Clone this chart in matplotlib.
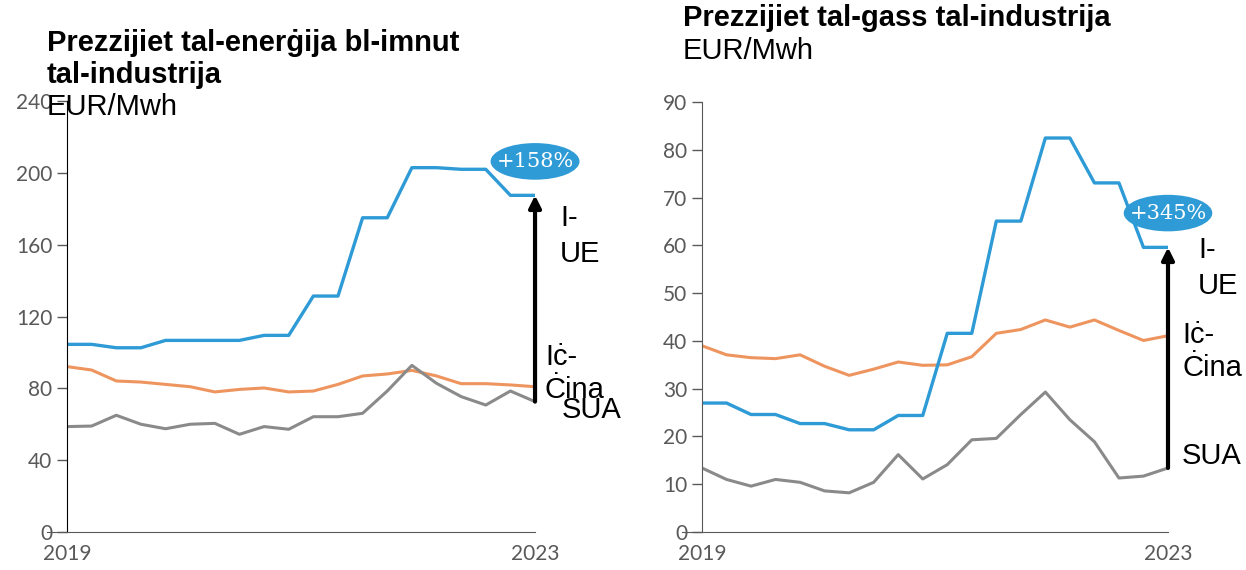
import numpy as np
import matplotlib
matplotlib.use('Agg')
import matplotlib.pyplot as plt
from matplotlib.patches import Ellipse

# Dữ liệu: giá điện (trái) và giá gas (phải), EUR/Mwh
periods = list(range(20))
x_labels = ['2019', '2023']

elec_eu = [104.5, 104.5, 102.6, 102.6, 106.7, 106.7, 106.7, 106.7, 109.5, 109.5,
           131.4, 131.4, 175, 175, 202.9, 202.9, 202, 202, 187.5, 187.5]
elec_cn = [92.1, 90.2, 84.1, 83.5, 82.2, 80.9, 78, 79.4, 80.2, 78,
           78.5, 82.2, 86.9, 88, 90, 86.9, 82.6, 82.6, 81.9, 80.9]
elec_us = [58.7, 59, 65, 60, 57.5, 60, 60.5, 54.4, 58.7, 57.2,
           64.2, 64.2, 66.1, 78.5, 92.8, 82.8, 75.4, 70.7, 78.5, 72.6]

gas_eu = [27, 27, 24.6, 24.6, 22.7, 22.7, 21.4, 21.4, 24.4, 24.4,
          41.6, 41.6, 65.1, 65.1, 82.5, 82.5, 73.1, 73.1, 59.6, 59.6]
gas_cn = [39, 37.1, 36.5, 36.3, 37.1, 34.7, 32.8, 34.1, 35.6, 34.9,
          35, 36.7, 41.6, 42.4, 44.4, 42.9, 44.4, 42.2, 40.1, 41.1]
gas_us = [13.4, 11, 9.6, 11, 10.4, 8.6, 8.2, 10.4, 16.2, 11.1,
          14.1, 19.3, 19.6, 24.6, 29.3, 23.5, 18.9, 11.3, 11.7, 13.4]

blue = '#2E9BD6'
orange = '#EE955F'
gray = '#8A8A8A'
tick_gray = '#595959'

fig = plt.figure(figsize=(12.46, 5.70), dpi=100)
ax1 = fig.add_axes([0.0538, 0.0667, 0.3756, 0.756])
ax2 = fig.add_axes([0.5634, 0.0667, 0.374, 0.754])


def draw_panel(ax, eu, cn, us, ymax, step, badge, badge_xy, spine_col):
    ax.plot(periods, cn, color=orange, lw=2.2)
    ax.plot(periods, us, color=gray, lw=2.2)
    ax.plot(periods, eu, color=blue, lw=2.4)
    ax.set_xlim(0, 19)
    ax.set_ylim(0, ymax)
    ax.set_yticks(np.arange(0, ymax + 1, step))
    ax.set_xticks([0, 19])
    ax.set_xticklabels(x_labels)
    ax.tick_params(axis='y', colors=tick_gray, labelsize=15, length=7, width=1)
    ax.tick_params(axis='x', colors=tick_gray, labelsize=15, length=0, pad=9)
    for lab in ax.get_xticklabels() + ax.get_yticklabels():
        lab.set_fontfamily('Lato')
    ax.spines['top'].set_visible(False)
    ax.spines['right'].set_visible(False)
    ax.spines['left'].set_color(spine_col)
    ax.spines['bottom'].set_color(tick_gray)
    ax.spines['bottom'].set_bounds(-0.8, 19)
    # mũi tên từ SUA lên UE
    ax.annotate('', xy=(19, eu[-1]), xytext=(19, us[-1]),
                arrowprops=dict(arrowstyle='-|>', color='black', lw=3,
                                mutation_scale=18, shrinkA=0, shrinkB=0),
                annotation_clip=False)
    e = Ellipse(badge_xy, 0.19, 0.085, transform=ax.transAxes,
                facecolor=blue, edgecolor='none', clip_on=False, zorder=5)
    ax.add_patch(e)
    ax.text(badge_xy[0], badge_xy[1], badge, transform=ax.transAxes,
            ha='center', va='center', color='white', fontsize=15,
            family='DejaVu Serif', zorder=6)


draw_panel(ax1, elec_eu, elec_cn, elec_us, 240, 40, '+158%', (1.0, 0.86), 'black')
draw_panel(ax2, gas_eu, gas_cn, gas_us, 90, 10, '+345%', (1.0, 0.742), tick_gray)

font = 'Liberation Sans'
# tiêu đề
fig.text(47 / 1246, 1 - 43 / 570, 'Prezzijiet tal-enerġija bl-imnut', family=font,
         fontsize=21, fontweight='bold', va='center')
fig.text(47 / 1246, 1 - 75 / 570, 'tal-industrija', family=font,
         fontsize=21, fontweight='bold', va='center')
fig.text(47 / 1246, 1 - 107 / 570, 'EUR/Mwh', family=font, fontsize=21, va='center')
fig.text(683 / 1246, 1 - 18 / 570, 'Prezzijiet tal-gass tal-industrija', family=font,
         fontsize=21, fontweight='bold', va='center')
fig.text(683 / 1246, 1 - 51 / 570, 'EUR/Mwh', family=font, fontsize=21, va='center')

# nhãn các đường
labels = [
    (560, 218, 'I-'), (560, 254, 'UE'),
    (545, 357, 'Iċ-'), (545, 390, 'Ċina'), (562, 410, 'SUA'),
    (1198, 250, 'I-'), (1198, 286, 'UE'),
    (1182, 335, 'Iċ-'), (1182, 368, 'Ċina'), (1182, 456, 'SUA'),
]
for px, py, t in labels:
    fig.text(px / 1246, 1 - py / 570, t, family=font, fontsize=21, va='center')

fig.savefig('out.png', dpi=100)
